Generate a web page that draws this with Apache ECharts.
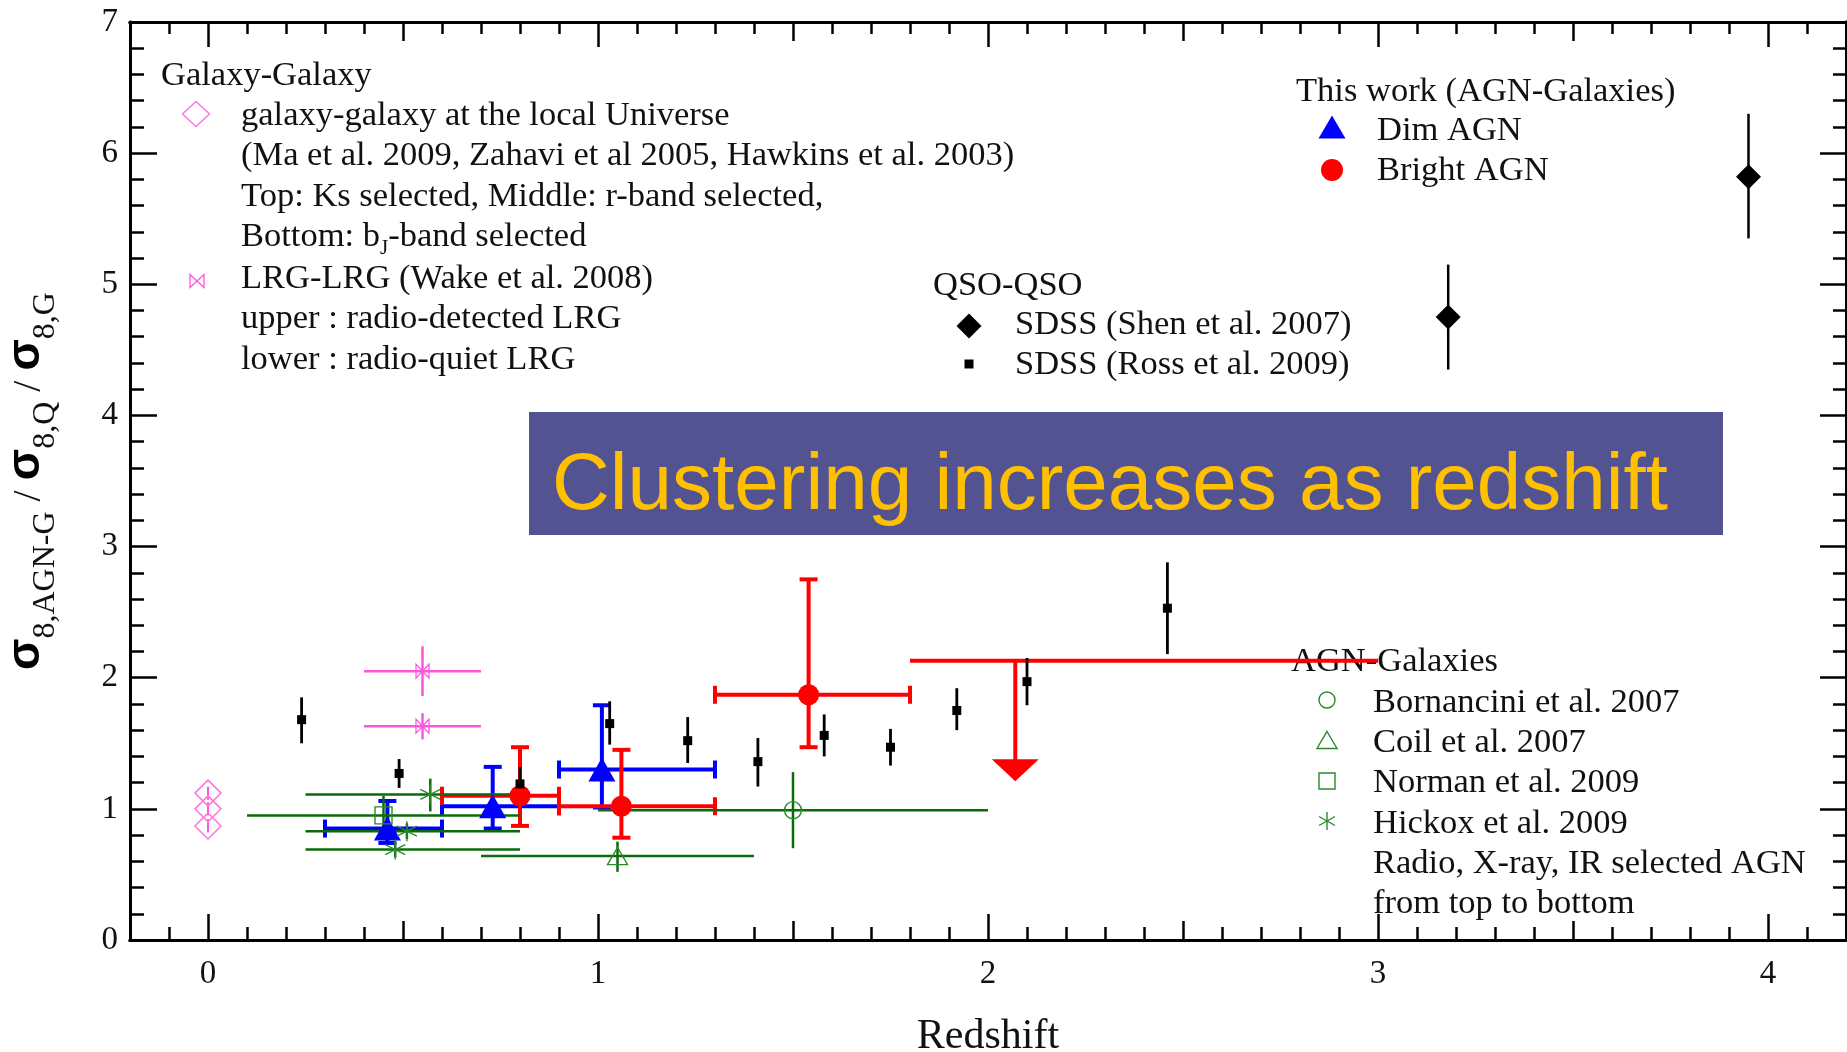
<!DOCTYPE html>
<html><head><meta charset="utf-8">
<script src="https://cdn.jsdelivr.net/npm/echarts@6/dist/echarts.min.js"></script>
<style>html,body{margin:0;padding:0;background:#fff}#c{width:1847px;height:1052px}</style>
</head><body><div id="c"></div><script>
// ---------- DATA ----------
// tick labels
const xTickLabels = [0, 1, 2, 3, 4];
const yTickLabels = [0, 1, 2, 3, 4, 5, 6, 7];
// rows: [redshift, value, zLow, zHigh, valueLow, valueHigh]
const galaxyLocal = [[0, 1.12, 0, 0, 1.07, 1.17], [0, 1.00, 0, 0, 0.95, 1.05], [0, 0.87, 0, 0, 0.82, 0.92]];
const lrgWake = [[0.55, 2.05, 0.40, 0.70, 1.86, 2.24], [0.55, 1.63, 0.40, 0.70, 1.53, 1.73]];
const shenQSO = [[3.18, 4.75, 3.18, 3.18, 4.35, 5.15], [3.95, 5.82, 3.95, 3.95, 5.35, 6.30]];
const rossQSO = [
  [0.24, 1.68, 0.24, 0.24, 1.50, 1.85], [0.49, 1.27, 0.49, 0.49, 1.16, 1.38],
  [0.80, 1.19, 0.80, 0.80, 1.08, 1.32], [1.03, 1.65, 1.03, 1.03, 1.49, 1.82],
  [1.23, 1.52, 1.23, 1.23, 1.35, 1.70], [1.41, 1.36, 1.41, 1.41, 1.17, 1.54],
  [1.58, 1.56, 1.58, 1.58, 1.40, 1.72], [1.75, 1.47, 1.75, 1.75, 1.33, 1.61],
  [1.92, 1.75, 1.92, 1.92, 1.60, 1.92], [2.10, 1.97, 2.10, 2.10, 1.79, 2.15],
  [2.46, 2.53, 2.46, 2.46, 2.18, 2.88]
];
const dimAGN = [[0.46, 0.85, 0.30, 0.60, 0.74, 1.06], [0.73, 1.02, 0.60, 0.90, 0.85, 1.32], [1.01, 1.30, 0.90, 1.30, 1.01, 1.79]];
const brightAGN = [[0.80, 1.10, 0.60, 0.90, 0.87, 1.47], [1.06, 1.02, 0.90, 1.30, 0.78, 1.45], [1.54, 1.87, 1.30, 1.80, 1.47, 2.75]];
// upper limit: [arrowRedshift, limitValue, zLow, zHigh, arrowTipValue]
const brightLimit = [[2.07, 2.13, 1.80, 3.00, 1.21]];
const bornancini = [[1.50, 0.99, 1.00, 2.00, 0.70, 1.28]];
const coil = [[1.05, 0.64, 0.70, 1.40, 0.52, 0.75]];
const norman = [[0.45, 0.95, 0.10, 0.80, 0.81, 1.10]];
const hickox = [[0.57, 1.11, 0.25, 0.80, 0.98, 1.23], [0.51, 0.83, 0.25, 0.80, 0.77, 0.89], [0.48, 0.69, 0.25, 0.80, 0.63, 0.75]];

// ---------- STYLE / HELPERS ----------
const SERIF = '"Liberation Serif","Times New Roman",serif';
const SANS = '"Liberation Sans",Arial,sans-serif';
const TXT = '#111';
const FS = 34.5;
const PINK = '#ff55dd', BLUE = '#0000ff', RED = '#ff0000', GREEN = '#0b6b0b', GREENM = '#2a8a2a';

function range(a, b, s) { const r = []; for (let i = 0; a + i * s <= b + 1e-9; i++) r.push(+(a + i * s).toFixed(2)); return r; }
const isInt = v => Math.abs(v - Math.round(v)) < 1e-6;
const isHalf = v => Math.abs(v * 2 - Math.round(v * 2)) < 1e-6;
const xHalf = [0.5, 1.5, 2.5, 3.5];
const xTenth = range(-0.1, 4.1, 0.1).filter(v => !isHalf(v));
const yMinor = range(0.2, 6.8, 0.2).filter(v => !isInt(v));

function mkX(pos, ticks, len, main) {
  return {
    type: 'value', min: -0.2, max: 4.2, position: pos,
    axisLine: { show: true, onZero: false, lineStyle: { color: '#000', width: 3 } },
    axisTick: { show: true, inside: true, length: len, customValues: ticks, lineStyle: { color: '#000', width: 2.5 } },
    axisLabel: { show: main, customValues: xTickLabels, margin: 18, fontFamily: SERIF, fontSize: 33, color: TXT },
    splitLine: { show: false },
    name: main ? 'Redshift' : '', nameLocation: 'middle', nameGap: 76,
    nameTextStyle: { fontFamily: SERIF, fontSize: 42, color: TXT }
  };
}
function mkY(pos, ticks, len, main) {
  return {
    type: 'value', min: 0, max: 7, position: pos,
    axisLine: { show: true, onZero: false, lineStyle: { color: '#000', width: 3 } },
    axisTick: { show: true, inside: true, length: len, customValues: ticks, lineStyle: { color: '#000', width: 2.5 } },
    axisLabel: { show: main, customValues: yTickLabels, margin: 12, fontFamily: SERIF, fontSize: 33, color: TXT },
    splitLine: { show: false },
    name: main ? '{s|σ}{b|8,AGN-G}{t| / }{s|σ}{b|8,Q}{t| / }{s|σ}{b|8,G}' : '',
    nameLocation: 'middle', nameRotate: 90, nameGap: 68,
    nameTextStyle: {
      rich: {
        s: { fontFamily: SANS, fontWeight: 'bold', fontSize: 46, verticalAlign: 'bottom', padding: [0, 0, 13, 0], color: '#000' },
        b: { fontFamily: SERIF, fontSize: 32, verticalAlign: 'bottom', color: TXT },
        t: { fontFamily: SERIF, fontSize: 40, verticalAlign: 'bottom', padding: [0, 0, 13, 0], color: TXT }
      }
    }
  };
}

function errRender(color, lw, cap) {
  return function (params, api) {
    const x = api.value(0), y = api.value(1);
    const xl = api.value(2), xh = api.value(3), yl = api.value(4), yh = api.value(5);
    const st = { stroke: color, lineWidth: lw, fill: null };
    const ch = [];
    if (xl !== xh) {
      const a = api.coord([xl, y]), b = api.coord([xh, y]);
      ch.push({ type: 'line', shape: { x1: a[0], y1: a[1], x2: b[0], y2: b[1] }, style: st });
      if (cap) [a, b].forEach(p => ch.push({ type: 'line', shape: { x1: p[0], y1: p[1] - cap, x2: p[0], y2: p[1] + cap }, style: st }));
    }
    if (yl !== yh) {
      const a = api.coord([x, yl]), b = api.coord([x, yh]);
      ch.push({ type: 'line', shape: { x1: a[0], y1: a[1], x2: b[0], y2: b[1] }, style: st });
      if (cap) [a, b].forEach(p => ch.push({ type: 'line', shape: { x1: p[0] - cap, y1: p[1], x2: p[0] + cap, y2: p[1] }, style: st }));
    }
    return { type: 'group', children: ch };
  };
}
function errSeries(data, color, lw, cap) {
  return { type: 'custom', silent: true, data: data, encode: { x: 0, y: 1 }, renderItem: errRender(color, lw, cap) };
}
function pts(data) { return data.map(r => [r[0], r[1]]); }
function scat(data, symbol, size, itemStyle) {
  return { type: 'scatter', silent: true, data: pts(data), symbol: symbol, symbolSize: size, itemStyle: Object.assign({ opacity: 1 }, itemStyle) };
}
const limitSeries = {
  type: 'custom', silent: true, data: brightLimit, encode: { x: 0, y: 1 },
  renderItem: function (params, api) {
    const x = api.value(0), v = api.value(1), zl = api.value(2), zh = api.value(3), tip = api.value(4);
    const a = api.coord([zl, v]), b = api.coord([zh, v]), top = api.coord([x, v]), t = api.coord([x, tip]);
    const st = { stroke: RED, lineWidth: 4, fill: null };
    return {
      type: 'group', children: [
        { type: 'line', shape: { x1: a[0], y1: a[1], x2: b[0], y2: b[1] }, style: st },
        { type: 'line', shape: { x1: top[0], y1: top[1], x2: t[0], y2: t[1] - 20 }, style: st },
        { type: 'polygon', shape: { points: [[t[0] - 23.5, t[1] - 22], [t[0] + 23.5, t[1] - 22], [t[0], t[1]]] }, style: { fill: RED } }
      ]
    };
  }
};

const STAR = 'path://M5,0L5,10M0.7,2.5L9.3,7.5M0.7,7.5L9.3,2.5';
const BOWTIE = 'path://M0,0L10,10L10,0L0,10Z';

// ---------- GRAPHIC (legend blocks, banner) ----------
function T(x, y, text, size) {
  return {
    type: 'text', x: x, y: y, z: 1,
    style: { text: text, fontFamily: SERIF, fontSize: size || FS, fill: TXT, align: 'left', verticalAlign: 'middle' }
  };
}
function poly(pts, style) { return { type: 'polygon', z: 1, shape: { points: pts }, style: style }; }
function ln(x1, y1, x2, y2, stroke, lw) { return { type: 'line', z: 1, shape: { x1, y1, x2, y2 }, style: { stroke, lineWidth: lw } }; }

const graphics = [
  // banner
  { type: 'rect', z: 1, shape: { x: 529, y: 412, width: 1194, height: 123 }, style: { fill: '#535391' } },
  { type: 'text', x: 552, y: 487, z: 2, style: { text: 'Clustering increases as redshift', fontFamily: SANS, fontSize: 80, fill: '#ffc000', align: 'left', verticalAlign: 'middle' } },
  // Galaxy-Galaxy block
  T(161, 76, 'Galaxy-Galaxy'),
  poly([[196, 101.5], [209.5, 114], [196, 126.5], [182.5, 114]], { fill: 'none', stroke: '#ff77dd', lineWidth: 1.5 }),
  T(241, 116, 'galaxy-galaxy at the local Universe'),
  T(241, 156, '(Ma et al. 2009, Zahavi et al 2005, Hawkins et al. 2003)'),
  T(241, 197, 'Top: Ks selected, Middle: r-band selected,'),
  { type: 'text', x: 241, y: 239, z: 1, style: {
      text: '{t|Bottom: b}{s|J}{t|-band selected}', fill: TXT, align: 'left', verticalAlign: 'middle',
      rich: { t: { fontFamily: SERIF, fontSize: FS, verticalAlign: 'bottom', padding: [0, 0, 5, 0] }, s: { fontFamily: SERIF, fontSize: 21, verticalAlign: 'bottom' } } } },
  poly([[190, 274.5], [204, 287.5], [204, 274.5], [190, 287.5]], { fill: 'none', stroke: '#ff55dd', lineWidth: 1.3 }),
  T(241, 279, 'LRG-LRG (Wake et al. 2008)'),
  T(241, 319, 'upper : radio-detected LRG'),
  T(241, 360, 'lower : radio-quiet LRG'),
  // QSO block
  T(933, 286, 'QSO-QSO'),
  poly([[969, 313.5], [981.5, 326], [969, 338.5], [956.5, 326]], { fill: '#000' }),
  { type: 'rect', z: 1, shape: { x: 964.5, y: 359.5, width: 9, height: 9 }, style: { fill: '#000' } },
  T(1015, 325, 'SDSS (Shen et al. 2007)'),
  T(1015, 365, 'SDSS (Ross et al. 2009)'),
  // This work block
  T(1296, 91.5, 'This work (AGN-Galaxies)'),
  poly([[1332, 115.5], [1345.5, 138.5], [1318.5, 138.5]], { fill: BLUE }),
  { type: 'circle', z: 1, shape: { cx: 1332, cy: 170, r: 11 }, style: { fill: RED } },
  T(1377, 130.5, 'Dim AGN'),
  T(1377, 171, 'Bright AGN'),
  // AGN-Galaxies block
  T(1291, 662, 'AGN-Galaxies'),
  { type: 'circle', z: 1, shape: { cx: 1327, cy: 700, r: 8 }, style: { fill: 'none', stroke: GREENM, lineWidth: 1.4 } },
  poly([[1327, 731.5], [1337, 748.5], [1317, 748.5]], { fill: 'none', stroke: GREENM, lineWidth: 1.4 }),
  { type: 'rect', z: 1, shape: { x: 1319, y: 773, width: 16, height: 16 }, style: { fill: 'none', stroke: GREENM, lineWidth: 1.4 } },
  ln(1327, 812, 1327, 830, GREENM, 1.4), ln(1319, 816.5, 1335, 825.5, GREENM, 1.4), ln(1319, 825.5, 1335, 816.5, GREENM, 1.4),
  T(1373, 702.5, 'Bornancini et al. 2007'),
  T(1373, 742.5, 'Coil et al. 2007'),
  T(1373, 783, 'Norman et al. 2009'),
  T(1373, 823.5, 'Hickox et al. 2009'),
  T(1373, 863.5, 'Radio, X-ray, IR selected AGN'),
  T(1373, 904, 'from top to bottom')
];

const option = {
  animation: false,
  backgroundColor: '#fff',
  grid: { left: 130, right: 1, top: 22, bottom: 112, containLabel: false, outerBoundsMode: 'none' },
  xAxis: [
    mkX('bottom', xTickLabels, 26, true), mkX('bottom', xHalf, 19, false), mkX('bottom', xTenth, 13, false),
    mkX('top', xTickLabels, 25, false), mkX('top', xHalf, 19, false), mkX('top', xTenth, 12, false)
  ],
  yAxis: [
    mkY('left', yTickLabels, 27, true), mkY('left', yMinor, 14, false),
    mkY('right', yTickLabels, 26, false), mkY('right', yMinor, 13, false)
  ],
  graphic: graphics,
  series: [
    errSeries(galaxyLocal, PINK, 2, 0),
    scat(galaxyLocal, 'diamond', [26, 26], { color: 'none', borderColor: '#ff77dd', borderWidth: 1.5 }),
    errSeries(lrgWake, PINK, 2.5, 0),
    scat(lrgWake, BOWTIE, [13, 14], { color: 'none', borderColor: PINK, borderWidth: 1.3 }),
    errSeries(dimAGN, BLUE, 4, 9),
    scat(dimAGN, 'triangle', [27, 24], { color: BLUE }),
    errSeries(brightAGN, RED, 4, 9),
    scat(brightAGN, 'circle', 21, { color: RED }),
    limitSeries,
    errSeries(bornancini.concat(coil, norman, hickox), GREEN, 2.5, 0),
    scat(bornancini, 'circle', 17, { color: 'none', borderColor: GREENM, borderWidth: 1.4 }),
    scat(coil, 'triangle', [20, 17], { color: 'none', borderColor: GREENM, borderWidth: 1.4 }),
    scat(norman, 'rect', 17, { color: 'none', borderColor: GREENM, borderWidth: 1.4 }),
    scat(hickox, STAR, 20, { color: 'none', borderColor: GREENM, borderWidth: 1.4 }),
    errSeries(shenQSO, '#000', 2.5, 0),
    scat(shenQSO, 'diamond', [25, 25], { color: '#000' }),
    errSeries(rossQSO, '#000', 2.8, 0),
    scat(rossQSO, 'rect', 9, { color: '#000' })
  ]
};
const chart = echarts.init(document.getElementById('c'));
chart.setOption(option);
</script></body></html>
